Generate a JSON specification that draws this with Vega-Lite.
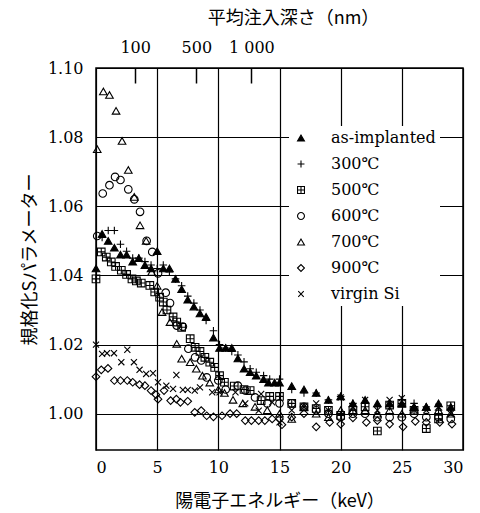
{
  "$schema": "https://vega.github.io/schema/vega-lite/v6.json",
  "width": 367,
  "height": 382,
  "padding": {"left": 21, "top": 9, "right": 5, "bottom": 5},
  "background": "white",
  "config": {
    "view": {"stroke": "black", "strokeWidth": 1.5},
    "axis": {
      "labelFont": "DejaVu Serif",
      "labelFontSize": 16,
      "labelColor": "black",
      "titleFont": "Noto Sans CJK JP",
      "titleFontSize": 18,
      "titleFontWeight": "normal",
      "titleColor": "black",
      "gridColor": "black",
      "gridWidth": 1.2,
      "gridOpacity": 1
    }
  },
  "datasets": {
    "pts": [
      {"series":"as-implanted","energy":0,"S":1.042},{"series":"as-implanted","energy":0.5,"S":1.052},{"series":"as-implanted","energy":1.0,"S":1.050},{"series":"as-implanted","energy":1.5,"S":1.048},{"series":"as-implanted","energy":2.0,"S":1.046},{"series":"as-implanted","energy":2.5,"S":1.046},{"series":"as-implanted","energy":3.0,"S":1.044},{"series":"as-implanted","energy":3.5,"S":1.045},{"series":"as-implanted","energy":4.0,"S":1.043},{"series":"as-implanted","energy":4.5,"S":1.042},{"series":"as-implanted","energy":5.0,"S":1.047},{"series":"as-implanted","energy":5.5,"S":1.042},{"series":"as-implanted","energy":6.0,"S":1.042},{"series":"as-implanted","energy":6.5,"S":1.039},{"series":"as-implanted","energy":7.0,"S":1.036},{"series":"as-implanted","energy":7.5,"S":1.033},{"series":"as-implanted","energy":8.0,"S":1.031},{"series":"as-implanted","energy":8.5,"S":1.029},{"series":"as-implanted","energy":9.0,"S":1.028},{"series":"as-implanted","energy":9.6,"S":1.022},{"series":"as-implanted","energy":10.1,"S":1.019},{"series":"as-implanted","energy":10.6,"S":1.019},{"series":"as-implanted","energy":11.1,"S":1.019},{"series":"as-implanted","energy":11.6,"S":1.016},{"series":"as-implanted","energy":12.1,"S":1.013},{"series":"as-implanted","energy":12.6,"S":1.012},{"series":"as-implanted","energy":13.1,"S":1.011},{"series":"as-implanted","energy":13.7,"S":1.010},{"series":"as-implanted","energy":14.1,"S":1.009},{"series":"as-implanted","energy":14.6,"S":1.009},{"series":"as-implanted","energy":15,"S":1.009},{"series":"as-implanted","energy":16,"S":1.008},{"series":"as-implanted","energy":17,"S":1.007},{"series":"as-implanted","energy":18,"S":1.006},{"series":"as-implanted","energy":19,"S":1.004},{"series":"as-implanted","energy":20,"S":1.005},{"series":"as-implanted","energy":21,"S":1.003},{"series":"as-implanted","energy":22,"S":1.004},{"series":"as-implanted","energy":23,"S":1.003},{"series":"as-implanted","energy":24,"S":1.003},{"series":"as-implanted","energy":25,"S":1.003},{"series":"as-implanted","energy":26,"S":1.002},{"series":"as-implanted","energy":27,"S":1.002},{"series":"as-implanted","energy":28,"S":1.003},{"series":"as-implanted","energy":29,"S":1.002},
      {"series":"300℃","energy":0.5,"S":1.051},{"series":"300℃","energy":1.0,"S":1.053},{"series":"300℃","energy":1.5,"S":1.053},{"series":"300℃","energy":2.0,"S":1.049},{"series":"300℃","energy":2.5,"S":1.047},{"series":"300℃","energy":3.0,"S":1.045},{"series":"300℃","energy":3.5,"S":1.045},{"series":"300℃","energy":4.0,"S":1.044},{"series":"300℃","energy":4.5,"S":1.043},{"series":"300℃","energy":5.0,"S":1.042},{"series":"300℃","energy":5.5,"S":1.043},{"series":"300℃","energy":6.0,"S":1.041},{"series":"300℃","energy":6.5,"S":1.039},{"series":"300℃","energy":7.0,"S":1.037},{"series":"300℃","energy":7.5,"S":1.034},{"series":"300℃","energy":8.0,"S":1.032},{"series":"300℃","energy":8.5,"S":1.030},{"series":"300℃","energy":9.0,"S":1.027},{"series":"300℃","energy":9.6,"S":1.024},{"series":"300℃","energy":10.1,"S":1.020},{"series":"300℃","energy":10.6,"S":1.019},{"series":"300℃","energy":11.1,"S":1.018},{"series":"300℃","energy":11.6,"S":1.017},{"series":"300℃","energy":12.1,"S":1.015},{"series":"300℃","energy":12.6,"S":1.013},{"series":"300℃","energy":13.1,"S":1.012},{"series":"300℃","energy":13.7,"S":1.011},{"series":"300℃","energy":14.2,"S":1.010},{"series":"300℃","energy":15,"S":1.010},{"series":"300℃","energy":16,"S":1.007},{"series":"300℃","energy":17,"S":1.006},{"series":"300℃","energy":18,"S":1.006},{"series":"300℃","energy":19,"S":1.004},{"series":"300℃","energy":20,"S":1.005},{"series":"300℃","energy":21,"S":1.003},{"series":"300℃","energy":22,"S":1.003},{"series":"300℃","energy":23,"S":1.002},{"series":"300℃","energy":24,"S":1.002},{"series":"300℃","energy":25,"S":1.004},{"series":"300℃","energy":26,"S":1.003},{"series":"300℃","energy":27,"S":1.002},{"series":"300℃","energy":28,"S":1.001},{"series":"300℃","energy":29,"S":1.001},
      {"series":"500℃","energy":0,"S":1.039},{"series":"500℃","energy":0.43,"S":1.0468},{"series":"500℃","energy":0.84,"S":1.0453},{"series":"500℃","energy":1.25,"S":1.0439},{"series":"500℃","energy":1.6,"S":1.0426},{"series":"500℃","energy":2.07,"S":1.0415},{"series":"500℃","energy":2.5,"S":1.0403},{"series":"500℃","energy":2.94,"S":1.039},{"series":"500℃","energy":3.3,"S":1.0384},{"series":"500℃","energy":3.7,"S":1.0378},{"series":"500℃","energy":4.4,"S":1.0371},{"series":"500℃","energy":4.8,"S":1.0352},{"series":"500℃","energy":5.2,"S":1.0337},{"series":"500℃","energy":5.5,"S":1.0323},{"series":"500℃","energy":5.8,"S":1.030},{"series":"500℃","energy":6.3,"S":1.028},{"series":"500℃","energy":6.6,"S":1.0265},{"series":"500℃","energy":7.0,"S":1.025},{"series":"500℃","energy":7.7,"S":1.0217},{"series":"500℃","energy":8.1,"S":1.0192},{"series":"500℃","energy":8.5,"S":1.018},{"series":"500℃","energy":8.9,"S":1.0163},{"series":"500℃","energy":9.3,"S":1.0149},{"series":"500℃","energy":9.7,"S":1.0134},{"series":"500℃","energy":10.1,"S":1.011},{"series":"500℃","energy":10.5,"S":1.0091},{"series":"500℃","energy":11.3,"S":1.008},{"series":"500℃","energy":12.1,"S":1.007},{"series":"500℃","energy":12.6,"S":1.0067},{"series":"500℃","energy":13.5,"S":1.0038},{"series":"500℃","energy":14.2,"S":1.005},{"series":"500℃","energy":15,"S":1.005},{"series":"500℃","energy":16,"S":1.003},{"series":"500℃","energy":17,"S":1.002},{"series":"500℃","energy":18,"S":1.0015},{"series":"500℃","energy":19,"S":1.001},{"series":"500℃","energy":20,"S":0.9995},{"series":"500℃","energy":21,"S":1.001},{"series":"500℃","energy":22,"S":1.002},{"series":"500℃","energy":23,"S":0.995},{"series":"500℃","energy":24,"S":1.0025},{"series":"500℃","energy":25,"S":1.003},{"series":"500℃","energy":26,"S":1.001},{"series":"500℃","energy":27,"S":0.9957},{"series":"500℃","energy":28,"S":0.9985},{"series":"500℃","energy":29,"S":1.0023},
      {"series":"600℃","energy":0.1,"S":1.0514},{"series":"600℃","energy":0.55,"S":1.0637},{"series":"600℃","energy":1.1,"S":1.0661},{"series":"600℃","energy":1.56,"S":1.0685},{"series":"600℃","energy":2.0,"S":1.0676},{"series":"600℃","energy":2.64,"S":1.0649},{"series":"600℃","energy":3.13,"S":1.062},{"series":"600℃","energy":3.6,"S":1.0584},{"series":"600℃","energy":4.14,"S":1.050},{"series":"600℃","energy":4.6,"S":1.0468},{"series":"600℃","energy":5.07,"S":1.0406},{"series":"600℃","energy":5.7,"S":1.035},{"series":"600℃","energy":6.05,"S":1.032},{"series":"600℃","energy":6.6,"S":1.0255},{"series":"600℃","energy":7.1,"S":1.0252},{"series":"600℃","energy":7.55,"S":1.0188},{"series":"600℃","energy":8.1,"S":1.0163},{"series":"600℃","energy":8.6,"S":1.0154},{"series":"600℃","energy":9.05,"S":1.0105},{"series":"600℃","energy":10.0,"S":1.0096},{"series":"600℃","energy":10.6,"S":1.007},{"series":"600℃","energy":11.6,"S":1.0081},{"series":"600℃","energy":12.2,"S":1.0067},{"series":"600℃","energy":13.0,"S":1.0047},{"series":"600℃","energy":14.0,"S":1.003},{"series":"600℃","energy":15,"S":1.003},{"series":"600℃","energy":16,"S":1.003},{"series":"600℃","energy":17,"S":1.002},{"series":"600℃","energy":18,"S":1.001},{"series":"600℃","energy":19,"S":1.000},{"series":"600℃","energy":20,"S":0.999},{"series":"600℃","energy":21,"S":1.000},{"series":"600℃","energy":22,"S":1.000},{"series":"600℃","energy":23,"S":0.999},{"series":"600℃","energy":24,"S":0.999},{"series":"600℃","energy":25,"S":0.999},{"series":"600℃","energy":26,"S":1.000},{"series":"600℃","energy":27,"S":0.999},{"series":"600℃","energy":28,"S":0.999},{"series":"600℃","energy":29,"S":0.9985},
      {"series":"700℃","energy":0.1,"S":1.0765},{"series":"700℃","energy":0.6,"S":1.0932},{"series":"700℃","energy":1.1,"S":1.0922},{"series":"700℃","energy":1.64,"S":1.0876},{"series":"700℃","energy":2.13,"S":1.0789},{"series":"700℃","energy":2.64,"S":1.0705},{"series":"700℃","energy":3.13,"S":1.0627},{"series":"700℃","energy":3.6,"S":1.0545},{"series":"700℃","energy":4.1,"S":1.050},{"series":"700℃","energy":4.55,"S":1.041},{"series":"700℃","energy":5.0,"S":1.037},{"series":"700℃","energy":5.4,"S":1.0294},{"series":"700℃","energy":6.05,"S":1.0265},{"series":"700℃","energy":6.6,"S":1.0202},{"series":"700℃","energy":7.0,"S":1.0159},{"series":"700℃","energy":7.7,"S":1.0149},{"series":"700℃","energy":8.2,"S":1.013},{"series":"700℃","energy":8.7,"S":1.011},{"series":"700℃","energy":9.3,"S":1.009},{"series":"700℃","energy":10.0,"S":1.007},{"series":"700℃","energy":10.5,"S":1.006},{"series":"700℃","energy":11.2,"S":1.004},{"series":"700℃","energy":12.0,"S":1.003},{"series":"700℃","energy":13.0,"S":1.002},{"series":"700℃","energy":14.0,"S":1.001},{"series":"700℃","energy":15,"S":1.000},{"series":"700℃","energy":16,"S":0.9985},{"series":"700℃","energy":17,"S":1.002},{"series":"700℃","energy":18,"S":1.000},{"series":"700℃","energy":19,"S":0.999},{"series":"700℃","energy":20,"S":1.001},{"series":"700℃","energy":21,"S":1.001},{"series":"700℃","energy":22,"S":1.001},{"series":"700℃","energy":23,"S":1.000},{"series":"700℃","energy":24,"S":1.001},{"series":"700℃","energy":25,"S":1.000},{"series":"700℃","energy":26,"S":1.002},{"series":"700℃","energy":27,"S":1.002},{"series":"700℃","energy":28,"S":1.001},{"series":"700℃","energy":29,"S":1.000},
      {"series":"900℃","energy":0,"S":1.0107},{"series":"900℃","energy":0.43,"S":1.0127},{"series":"900℃","energy":0.98,"S":1.0131},{"series":"900℃","energy":1.5,"S":1.0096},{"series":"900℃","energy":2.0,"S":1.0096},{"series":"900℃","energy":2.56,"S":1.0096},{"series":"900℃","energy":3.0,"S":1.0091},{"series":"900℃","energy":3.56,"S":1.0084},{"series":"900℃","energy":4.0,"S":1.0081},{"series":"900℃","energy":4.5,"S":1.0067},{"series":"900℃","energy":4.9,"S":1.0055},{"series":"900℃","energy":5.07,"S":1.0042},{"series":"900℃","energy":5.56,"S":1.0067},{"series":"900℃","energy":6.1,"S":1.0038},{"series":"900℃","energy":6.57,"S":1.0042},{"series":"900℃","energy":6.9,"S":1.0033},{"series":"900℃","energy":7.5,"S":1.0036},{"series":"900℃","energy":8.07,"S":1.0004},{"series":"900℃","energy":8.6,"S":1.0009},{"series":"900℃","energy":9.05,"S":0.9994},{"series":"900℃","energy":9.6,"S":0.9991},{"series":"900℃","energy":10.3,"S":0.9994},{"series":"900℃","energy":10.96,"S":1.0},{"series":"900℃","energy":11.5,"S":1.0},{"series":"900℃","energy":12.2,"S":0.998},{"series":"900℃","energy":12.7,"S":0.998},{"series":"900℃","energy":13.3,"S":0.998},{"series":"900℃","energy":13.8,"S":0.998},{"series":"900℃","energy":14.4,"S":0.9985},{"series":"900℃","energy":15.0,"S":0.9985},{"series":"900℃","energy":15.2,"S":0.9968},{"series":"900℃","energy":16,"S":0.999},{"series":"900℃","energy":17,"S":1.000},{"series":"900℃","energy":18,"S":0.9962},{"series":"900℃","energy":19.1,"S":0.9975},{"series":"900℃","energy":20,"S":0.997},{"series":"900℃","energy":21,"S":0.9988},{"series":"900℃","energy":22.1,"S":0.9975},{"series":"900℃","energy":23,"S":0.998},{"series":"900℃","energy":24,"S":0.997},{"series":"900℃","energy":25.1,"S":0.9962},{"series":"900℃","energy":26.1,"S":0.9978},{"series":"900℃","energy":27,"S":0.9975},{"series":"900℃","energy":28.1,"S":0.9975},{"series":"900℃","energy":29.1,"S":0.997},
      {"series":"virgin Si","energy":0,"S":1.020},{"series":"virgin Si","energy":0.5,"S":1.0173},{"series":"virgin Si","energy":0.9,"S":1.0175},{"series":"virgin Si","energy":1.47,"S":1.0175},{"series":"virgin Si","energy":2.07,"S":1.0149},{"series":"virgin Si","energy":2.56,"S":1.0185},{"series":"virgin Si","energy":3.1,"S":1.0149},{"series":"virgin Si","energy":3.56,"S":1.0127},{"series":"virgin Si","energy":4.1,"S":1.0115},{"series":"virgin Si","energy":4.66,"S":1.0117},{"series":"virgin Si","energy":5.07,"S":1.0091},{"series":"virgin Si","energy":5.75,"S":1.0081},{"series":"virgin Si","energy":6.3,"S":1.0072},{"series":"virgin Si","energy":6.57,"S":1.0112},{"series":"virgin Si","energy":7.1,"S":1.0069},{"series":"virgin Si","energy":7.5,"S":1.0069},{"series":"virgin Si","energy":8.07,"S":1.0067},{"series":"virgin Si","energy":8.5,"S":1.0076},{"series":"virgin Si","energy":9.5,"S":1.0062},{"series":"virgin Si","energy":10.1,"S":1.0062},{"series":"virgin Si","energy":11.4,"S":1.0062},{"series":"virgin Si","energy":12.2,"S":1.003},{"series":"virgin Si","energy":13.3,"S":1.0009},{"series":"virgin Si","energy":13.5,"S":1.0057},{"series":"virgin Si","energy":14.4,"S":1.0033},{"series":"virgin Si","energy":15,"S":0.9975},{"series":"virgin Si","energy":16,"S":1.001},{"series":"virgin Si","energy":17,"S":1.002},{"series":"virgin Si","energy":18,"S":1.003},{"series":"virgin Si","energy":19,"S":1.001},{"series":"virgin Si","energy":20,"S":1.0047},{"series":"virgin Si","energy":21,"S":1.002},{"series":"virgin Si","energy":22,"S":1.004},{"series":"virgin Si","energy":23,"S":1.001},{"series":"virgin Si","energy":24,"S":1.004},{"series":"virgin Si","energy":25,"S":1.0045},{"series":"virgin Si","energy":26,"S":1.001},{"series":"virgin Si","energy":27,"S":1.001},{"series":"virgin Si","energy":28,"S":1.002},{"series":"virgin Si","energy":29,"S":1.000}
    ],
    "top": [
      {"depth":"100","kev":3.2},
      {"depth":"500","kev":8.2},
      {"depth":"1 000","kev":12.7}
    ]
  },
  "layer": [
    {
      "data": {"name": "pts"},
      "mark": {"type": "point", "size": 58, "strokeWidth": 1.1, "opacity": 1},
      "encoding": {
        "x": {
          "field": "energy", "type": "quantitative",
          "scale": {"domain": [0, 30], "nice": false, "zero": false},
          "axis": {
            "orient": "bottom",
            "values": [0, 5, 10, 15, 20, 25, 30],
            "format": "d",
            "grid": true,
            "tickSize": 0,
            "domain": false,
            "labelPadding": 9,
            "title": "陽電子エネルギー（keV）",
            "titlePadding": 17
          }
        },
        "y": {
          "field": "S", "type": "quantitative",
          "scale": {"domain": [0.9895, 1.10], "nice": false, "zero": false},
          "axis": {
            "values": [1.0, 1.02, 1.04, 1.06, 1.08, 1.10],
            "format": ".2f",
            "grid": true,
            "tickSize": 0,
            "domain": false,
            "labelPadding": 13,
            "title": "規格化Sパラメーター",
            "titlePadding": 8
          }
        },
        "shape": {
          "field": "series", "type": "nominal",
          "scale": {
            "domain": ["as-implanted", "300℃", "500℃", "600℃", "700℃", "900℃", "virgin Si"],
            "range": ["triangle-up", "M-1,0L1,0M0,-1L0,1", "M-1,-1L1,-1L1,1L-1,1ZM-1,0L1,0M0,-1L0,1", "circle", "triangle-up", "diamond", "M-0.8,-0.8L0.8,0.8M-0.8,0.8L0.8,-0.8"]
          },
          "legend": {
            "orient": "none", "legendX": 193, "legendY": 58, "title": null,
            "padding": 4, "fillColor": "white", "strokeColor": null,
            "symbolSize": 48, "symbolStrokeWidth": 1.1, "symbolOpacity": 1,
            "labelFont": "DejaVu Serif, Noto Sans CJK JP", "labelFontSize": 16, "labelColor": "black",
            "labelOffset": 22, "rowPadding": 10, "clipHeight": 16
          }
        },
        "fill": {
          "field": "series", "type": "nominal",
          "scale": {
            "domain": ["as-implanted", "300℃", "500℃", "600℃", "700℃", "900℃", "virgin Si"],
            "range": ["black", "transparent", "transparent", "transparent", "transparent", "transparent", "transparent"]
          },
          "legend": {
            "orient": "none", "legendX": 193, "legendY": 58, "title": null,
            "padding": 4, "fillColor": "white", "strokeColor": null,
            "symbolSize": 48, "symbolStrokeWidth": 1.1, "symbolOpacity": 1,
            "labelFont": "DejaVu Serif, Noto Sans CJK JP", "labelFontSize": 16, "labelColor": "black",
            "labelOffset": 22, "rowPadding": 10, "clipHeight": 16
          }
        },
        "stroke": {
          "field": "series", "type": "nominal",
          "scale": {
            "domain": ["as-implanted", "300℃", "500℃", "600℃", "700℃", "900℃", "virgin Si"],
            "range": ["black", "black", "black", "black", "black", "black", "black"]
          },
          "legend": {
            "orient": "none", "legendX": 193, "legendY": 58, "title": null,
            "padding": 4, "fillColor": "white", "strokeColor": null,
            "symbolSize": 48, "symbolStrokeWidth": 1.1, "symbolOpacity": 1,
            "labelFont": "DejaVu Serif, Noto Sans CJK JP", "labelFontSize": 16, "labelColor": "black",
            "labelOffset": 22, "rowPadding": 10, "clipHeight": 16
          }
        }
      }
    },
    {
      "data": {"name": "top"},
      "mark": {"type": "point", "opacity": 0},
      "encoding": {
        "x": {
          "field": "kev", "type": "quantitative",
          "scale": {"domain": [0, 30], "nice": false, "zero": false},
          "axis": {
            "orient": "top",
            "values": [3.2, 8.2, 12.7],
            "labelExpr": "datum.value == 3.2 ? '100' : datum.value == 8.2 ? '500' : '1 000'",
            "grid": false,
            "domain": false,
            "tickSize": -15,
            "tickColor": "black",
            "tickWidth": 1.5,
            "labelPadding": 28,
            "title": "平均注入深さ（nm）",
            "titlePadding": 12,
            "titleX": 197
          }
        }
      }
    }
  ],
  "resolve": {"scale": {"x": "independent"}, "axis": {"x": "independent"}}
}
